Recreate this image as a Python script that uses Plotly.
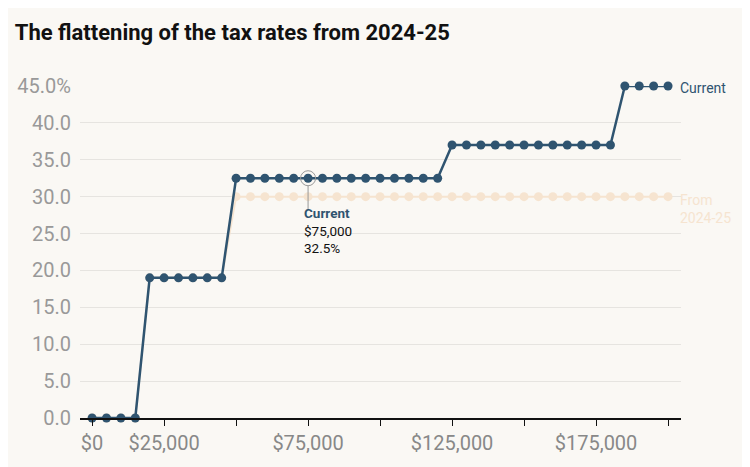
import plotly.graph_objects as go

incomes = list(range(0, 200001, 5000))
current_rates = [0]*4 + [19]*6 + [32.5]*15 + [37]*12 + [45]*4
future_rates = [0]*4 + [19]*6 + [30]*31

x_tickvals = list(range(0, 200001, 25000))
x_ticktext = ["$0", "$25,000", "", "$75,000", "", "$125,000", "", "$175,000", ""]
y_tickvals = [0, 5, 10, 15, 20, 25, 30, 35, 40, 45]
y_ticktext = ["0.0", "5.0", "10.0", "15.0", "20.0", "25.0", "30.0", "35.0", "40.0", "45.0%"]

highlight_income = 75000
highlight_rate = current_rates[incomes.index(highlight_income)]

BLUE = "#2f5470"
PEACH = "#f6e4d0"
BG = "#faf8f4"

fig = go.Figure()
fig.add_trace(go.Scatter(
    x=incomes, y=future_rates, mode="lines+markers",
    line=dict(color=PEACH, width=2), marker=dict(color=PEACH, size=9),
    cliponaxis=False, hoverinfo="skip", showlegend=False))
fig.add_trace(go.Scatter(
    x=incomes, y=current_rates, mode="lines+markers",
    line=dict(color=BLUE, width=2.5), marker=dict(color=BLUE, size=9),
    cliponaxis=False, hoverinfo="skip", showlegend=False))
fig.add_trace(go.Scatter(
    x=[highlight_income], y=[highlight_rate], mode="markers",
    marker=dict(symbol="circle-open", size=15, color="#999999", line=dict(width=1)),
    cliponaxis=False, hoverinfo="skip", showlegend=False))

fig.add_shape(type="line", xref="x", yref="y", x0=highlight_income, x1=highlight_income,
              y0=highlight_rate - 1, y1=highlight_rate - 4.2, line=dict(color="#999999", width=1))
fig.add_annotation(x=highlight_income, y=highlight_rate - 3.3, xref="x", yref="y",
                   text="<b><span style='color:%s'>Current</span></b><br>$%s<br>%s%%" % (BLUE, f"{highlight_income:,}", highlight_rate),
                   showarrow=False, xanchor="left", yanchor="top", xshift=-6, align="left",
                   font=dict(family="Roboto", size=13.5, color="#111111"))

fig.add_annotation(x=incomes[-1], y=current_rates[-1], xref="x", yref="y", text="Current",
                   showarrow=False, xanchor="left", xshift=10, yshift=-2,
                   font=dict(family="Roboto", size=14, color=BLUE))
fig.add_annotation(x=incomes[-1], y=future_rates[-1], xref="x", yref="y", text="From<br>2024-25",
                   showarrow=False, xanchor="left", yanchor="top", xshift=10, yshift=7, align="left",
                   font=dict(family="Roboto", size=14, color=PEACH))

fig.update_layout(
    width=750, height=467,
    paper_bgcolor=BG, plot_bgcolor=BG,
    margin=dict(l=72, r=77, t=78, b=57),
    title=dict(text="<b>The flattening of the tax rates from 2024-25</b>", x=0.009, xanchor="left",
               y=0.949, yanchor="middle", font=dict(family="Roboto", size=22, color="#111111")),
    xaxis=dict(range=[-4200, 204500], tickvals=x_tickvals, ticktext=x_ticktext, automargin=False,
               showgrid=False, zeroline=False, showline=True, linecolor="#111111", linewidth=1.5,
               ticks="outside", ticklen=6, tickcolor="#111111", ticklabelstandoff=0,
               tickfont=dict(family="Roboto", size=20, color="#888888")),
    yaxis=dict(range=[0, 45], tickvals=y_tickvals, ticktext=y_ticktext, automargin=False,
               showgrid=True, gridcolor="#e6e4e0", gridwidth=1, zeroline=False,
               ticks="", ticklabelstandoff=8,
               tickfont=dict(family="Roboto", size=20, color="#999999")),
)

fig.write_html("out.html")
